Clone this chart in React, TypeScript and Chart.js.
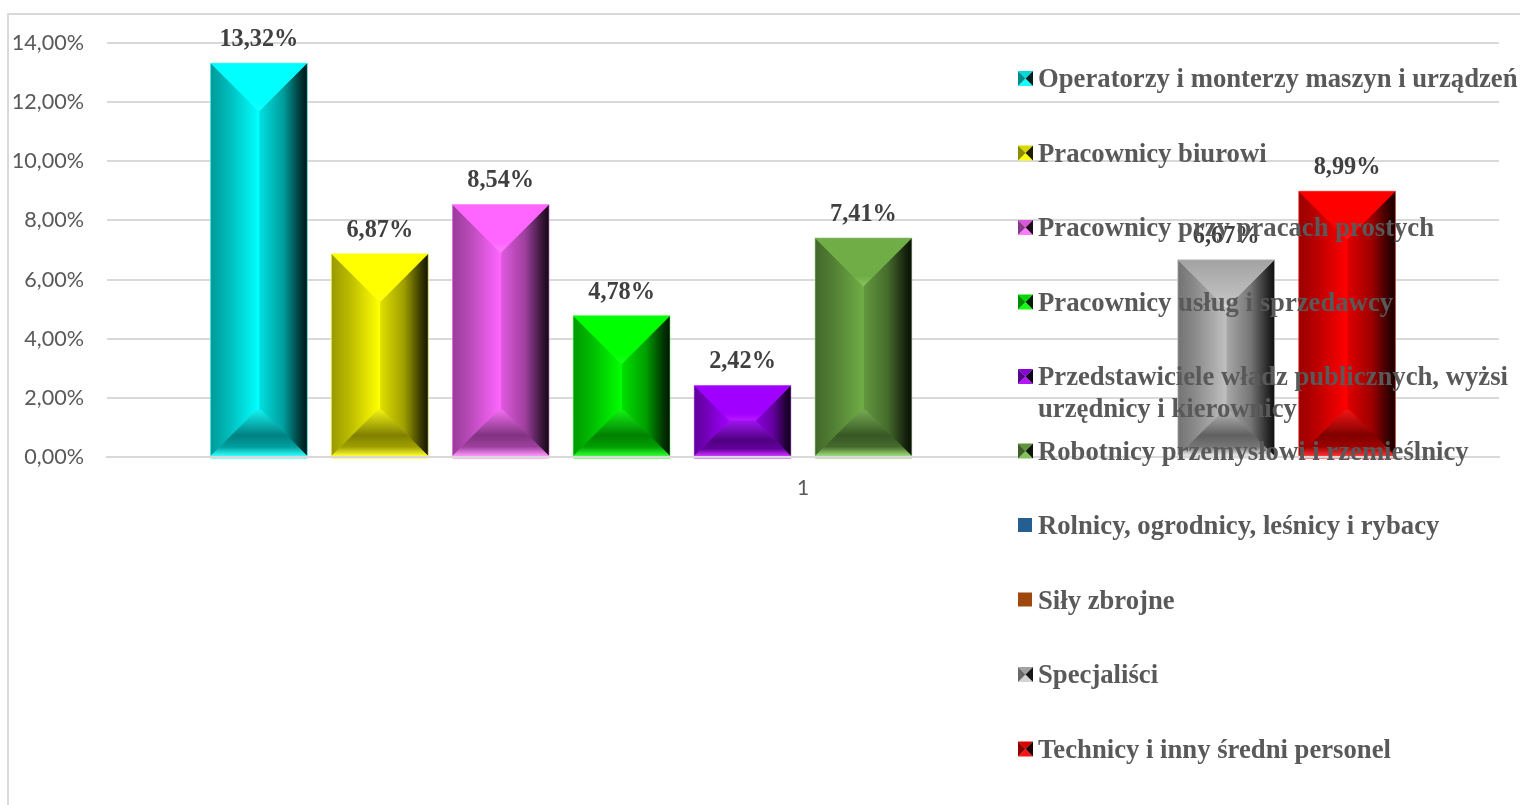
import React, { useEffect, useRef } from "react";
import { Chart, registerables } from "chart.js";

Chart.register(...registerables);

const categories = ["1"];
const seriesNames = [
  "Operatorzy i monterzy maszyn i urządzeń",
  "Pracownicy biurowi",
  "Pracownicy przy pracach prostych",
  "Pracownicy usług i sprzedawcy",
  "Przedstawiciele władz publicznych, wyżsi urzędnicy i kierownicy",
  "Robotnicy przemysłowi i rzemieślnicy",
  "Rolnicy, ogrodnicy, leśnicy i rybacy",
  "Siły zbrojne",
  "Specjaliści",
  "Technicy i inny średni personel",
];
const seriesValues: (number | null)[] = [13.32, 6.87, 8.54, 4.78, 2.42, 7.41, null, null, 6.67, 8.99];
const seriesColors: [number, number, number][] = [
  [0, 255, 255],
  [255, 255, 0],
  [255, 102, 255],
  [0, 255, 0],
  [160, 0, 255],
  [112, 173, 71],
  [37, 94, 145],
  [158, 72, 14],
  [191, 191, 191],
  [255, 0, 0],
];
const yTicks = { min: 0, max: 14, stepSize: 2 };

const pct = (v: number) => v.toFixed(2).replace(".", ",") + "%";
const shade = (c: number[], f: number, lift = 0) =>
  `rgb(${c.map((v) => Math.min(255, Math.round(v * f + lift))).join(",")})`;

function poly(ctx: CanvasRenderingContext2D, pts: number[][], fill: string | CanvasGradient) {
  ctx.beginPath();
  pts.forEach((p, i) => (i ? ctx.lineTo(p[0], p[1]) : ctx.moveTo(p[0], p[1])));
  ctx.closePath();
  ctx.fillStyle = fill;
  ctx.fill();
}

const framePlugin = {
  id: "frame",
  beforeDraw(chart: any) {
    const { ctx, width, height } = chart;
    ctx.save();
    ctx.fillStyle = "#ffffff";
    ctx.fillRect(0, 0, width, height);
    ctx.fillStyle = "#d9d9d9";
    ctx.fillRect(7, 13, width - 7, 2);
    ctx.fillRect(7, 13, 2, height - 13);
    ctx.restore();
  },
};

const bevelPlugin = {
  id: "bevel",
  afterDatasetsDraw(chart: any) {
    const { ctx } = chart;
    ctx.save();
    chart.data.datasets.forEach((ds: any, i: number) => {
      const v = ds.data[0];
      if (v == null) return;
      const el = chart.getDatasetMeta(i).data[0];
      const c = seriesColors[i];
      const x0 = el.x - el.width / 2;
      const x1 = el.x + el.width / 2;
      const top = el.y;
      const base = el.base;
      const d = Math.min(el.width / 2, (base - top) / 2, 48);
      const db = Math.min(d, 46);

      const lg = ctx.createLinearGradient(x0, 0, x0 + d, 0);
      lg.addColorStop(0, shade(c, 0.6));
      lg.addColorStop(0.35, shade(c, 0.72));
      lg.addColorStop(1, shade(c, 1));
      poly(ctx, [[x0, top], [x0 + d, top + d], [x0 + d, base - db], [x0, base]], lg);

      const rg = ctx.createLinearGradient(x1 - d, 0, x1, 0);
      rg.addColorStop(0, shade(c, 0.88));
      rg.addColorStop(0.5, shade(c, 0.62));
      rg.addColorStop(0.85, shade(c, 0.22));
      rg.addColorStop(1, shade(c, 0.08));
      poly(ctx, [[x1 - d, top + d], [x1, top], [x1, base], [x1 - d, base - db]], rg);

      const muted = Math.min(c[0], c[1], c[2]) > 150;
      const tg = ctx.createLinearGradient(0, top, 0, top + d);
      tg.addColorStop(0, shade(c, muted ? 0.85 : 1));
      tg.addColorStop(0.8, shade(c, 1));
      tg.addColorStop(1, shade(c, 1, 25));
      poly(ctx, [[x0, top], [x1, top], [x1 - d, top + d], [x0 + d, top + d]], tg);

      const bg = ctx.createLinearGradient(0, base - db, 0, base);
      bg.addColorStop(0, shade(c, 0.86, 20));
      bg.addColorStop(0.55, shade(c, 0.5));
      bg.addColorStop(0.8, shade(c, 0.62));
      bg.addColorStop(1, shade(c, 1, 50));
      poly(ctx, [[x0 + db, base - db], [x1 - db, base - db], [x1, base], [x0, base]], bg);

      ctx.fillStyle = shade(c, 1, 20);
      ctx.fillRect(x0, base, el.width, 2.5);
      ctx.strokeStyle = shade(c, 0.6, 90);
      ctx.globalAlpha = 0.55;
      ctx.lineWidth = 1;
      ctx.strokeRect(x0, top, el.width, base - top);
      ctx.globalAlpha = 1;

      ctx.font = 'bold 24.3px "Liberation Serif"';
      ctx.fillStyle = "#404040";
      ctx.textAlign = "center";
      ctx.textBaseline = "alphabetic";
      ctx.fillText(pct(v), el.x, top - 17);
    });
    ctx.restore();
  },
};

const legendPlugin = {
  id: "sideLegend",
  afterDraw(chart: any) {
    const { ctx } = chart;
    ctx.save();
    ctx.font = 'bold 26.7px "Liberation Serif"';
    ctx.textAlign = "left";
    ctx.textBaseline = "alphabetic";
    chart.data.datasets.forEach((ds: any, i: number) => {
      const cy = 78.5 + 74.5 * i;
      const c = seriesColors[i];
      const mx0 = 1018, mx1 = 1033, my0 = cy - 7.5, my1 = cy + 7.5;
      const cx = (mx0 + mx1) / 2;
      if (ds.data[0] == null) {
        ctx.fillStyle = shade(c, 1);
        ctx.fillRect(mx0, my0, 14, 14);
      } else {
        poly(ctx, [[mx0, my0], [mx1, my0], [cx, cy]], shade(c, 0.85));
        poly(ctx, [[mx0, my1], [mx1, my1], [cx, cy]], shade(c, 1, 20));
        poly(ctx, [[mx0, my0], [cx, cy], [mx0, my1]], shade(c, 0.55));
        poly(ctx, [[mx1, my0], [cx, cy], [mx1, my1]], shade(c, 0.12));
      }
      const words = String(ds.label).split(" ");
      const lines: string[] = [];
      let line = "";
      words.forEach((w) => {
        const t = line ? line + " " + w : w;
        if (ctx.measureText(t).width > 482 && line) {
          lines.push(line);
          line = w;
        } else line = t;
      });
      lines.push(line);
      ctx.fillStyle = "#595959";
      lines.forEach((l, k) => ctx.fillText(l, 1038, cy + 8.5 + k * 32));
    });
    ctx.restore();
  },
};

export default function App() {
  const ref = useRef<HTMLCanvasElement>(null);
  useEffect(() => {
    const chart = new Chart(ref.current!, {
      type: "bar",
      data: {
        labels: categories,
        datasets: seriesNames.map((label, i) => ({
          label,
          data: [seriesValues[i]],
          backgroundColor: shade(seriesColors[i], 1),
          borderWidth: 0,
          barPercentage: 0.8,
          categoryPercentage: 0.8686,
        })),
      },
      options: {
        responsive: false,
        animation: false,
        layout: { padding: { top: 43, right: 21, left: 0, bottom: 0 } },
        plugins: { legend: { display: false }, tooltip: { enabled: false } },
        scales: {
          x: {
            grid: { display: false },
            border: { display: true, color: "#d9d9d9", width: 2, z: 1 },
            ticks: { color: "#595959", font: { family: "Lato", size: 21 }, padding: 11 },
            afterFit: (s: any) => {
              s.height = 805 - 43 - 414;
            },
          },
          y: {
            min: yTicks.min,
            max: yTicks.max,
            grid: { color: "#d9d9d9", lineWidth: 2, drawTicks: false },
            border: { display: false },
            ticks: {
              stepSize: yTicks.stepSize,
              color: "#595959",
              font: { family: "Lato", size: 21.6 },
              padding: 23,
              callback: (v: any) => pct(Number(v)),
            },
            afterFit: (s: any) => {
              s.width = 107;
            },
          },
        },
      },
      plugins: [framePlugin, bevelPlugin, legendPlugin],
    } as any);
    return () => chart.destroy();
  }, []);
  return (
    <canvas
      ref={ref}
      width={1520}
      height={805}
      style={{ position: "fixed", left: 0, top: 0, width: 1520, height: 805, display: "block" }}
    />
  );
}
